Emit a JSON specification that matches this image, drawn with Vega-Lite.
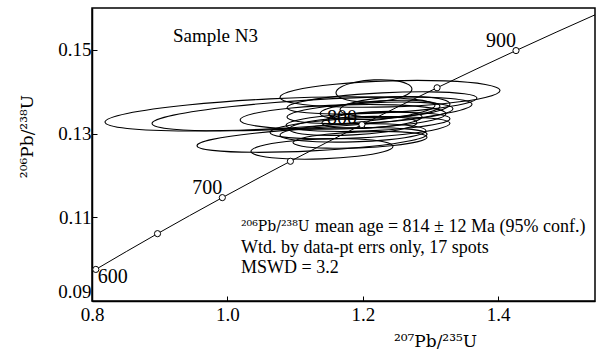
{
  "$schema": "https://vega.github.io/schema/vega-lite/v6.json",
  "width": 503,
  "height": 293,
  "autosize": "none",
  "padding": {"left": 92, "top": 8, "right": 3, "bottom": 52},
  "background": "white",
  "config": {
    "view": {"stroke": "black", "strokeWidth": 1.5},
    "font": "Liberation Serif",
    "text": {"font": "Liberation Serif", "color": "black"},
    "axis": {
      "labelFont": "Liberation Serif",
      "titleFont": "DejaVu Serif",
      "labelColor": "black",
      "titleColor": "black",
      "domainColor": "black",
      "domainWidth": 1.5,
      "tickColor": "black",
      "grid": false,
      "titleFontWeight": "normal"
    }
  },
  "datasets": {
    "conc": [
      {"t": 600, "x": 0.80563, "y": 0.097545},
      {"t": 625, "x": 0.85064, "y": 0.101809},
      {"t": 650, "x": 0.89677, "y": 0.10609},
      {"t": 675, "x": 0.94406, "y": 0.11039},
      {"t": 700, "x": 0.99251, "y": 0.11470},
      {"t": 725, "x": 1.04218, "y": 0.11903},
      {"t": 750, "x": 1.09309, "y": 0.12338},
      {"t": 775, "x": 1.14526, "y": 0.12775},
      {"t": 800, "x": 1.19873, "y": 0.13213},
      {"t": 825, "x": 1.25354, "y": 0.13653},
      {"t": 850, "x": 1.30972, "y": 0.14094},
      {"t": 875, "x": 1.36729, "y": 0.14538},
      {"t": 900, "x": 1.42631, "y": 0.14983},
      {"t": 925, "x": 1.48677, "y": 0.15430},
      {"t": 950, "x": 1.54876, "y": 0.15878}
    ]
  },
  "layer": [
    {
      "data": {"values": [
        {"s": 1, "k": [0,1,2,3,4,5,6,7,8,9,10,11], "x": [1.3066,1.2739,1.1848,1.0629,0.9410,0.8519,0.8192,0.8519,0.9410,1.0629,1.1848,1.2739], "y": [0.13668,0.13822,0.13881,0.13830,0.13683,0.13480,0.13274,0.13120,0.13061,0.13112,0.13259,0.13462]},
        {"s": 2, "k": [0,1,2,3,4,5,6,7,8,9,10,11], "x": [1.3613,1.3296,1.2432,1.1250,1.0068,0.9204,0.8887,0.9204,1.0068,1.1250,1.2432,1.3296], "y": [0.13701,0.13838,0.13876,0.13806,0.13646,0.13440,0.13241,0.13104,0.13066,0.13136,0.13296,0.13502]},
        {"s": 3, "k": [0,1,2,3,4,5,6,7,8,9,10,11], "x": [1.2949,1.2721,1.2100,1.1250,1.0400,0.9779,0.9551,0.9779,1.0400,1.1250,1.2100,1.2721], "y": [0.12986,0.13100,0.13146,0.13112,0.13008,0.12862,0.12712,0.12598,0.12552,0.12586,0.12690,0.12836]},
        {"s": 4, "k": [0,1,2,3,4,5,6,7,8,9,10,11], "x": [1.2446,1.2305,1.1922,1.1397,1.0872,1.0489,1.0348,1.0489,1.0872,1.1397,1.1922,1.2305], "y": [0.12693,0.12805,0.12871,0.12873,0.12811,0.12703,0.12575,0.12463,0.12397,0.12395,0.12457,0.12565]},
        {"s": 5, "k": [0,1,2,3,4,5,6,7,8,9,10,11], "x": [1.3229,1.3025,1.2469,1.1708,1.0947,1.0391,1.0187,1.0391,1.0947,1.1708,1.2469,1.3025], "y": [0.13473,0.13607,0.13685,0.13686,0.13611,0.13479,0.13325,0.13191,0.13113,0.13112,0.13187,0.13319]},
        {"s": 6, "k": [0,1,2,3,4,5,6,7,8,9,10,11], "x": [1.4027,1.3809,1.3215,1.2402,1.1589,1.0995,1.0777,1.0995,1.1589,1.2402,1.3215,1.3809], "y": [0.14028,0.14173,0.14258,0.14260,0.14178,0.14037,0.13870,0.13725,0.13640,0.13638,0.13720,0.13861]},
        {"s": 7, "k": [0,1,2,3,4,5,6,7,8,9,10,11], "x": [1.2726,1.2651,1.2446,1.2165,1.1885,1.1679,1.1604,1.1679,1.1885,1.2165,1.2446,1.2651], "y": [0.14065,0.14191,0.14271,0.14283,0.14225,0.14113,0.13975,0.13849,0.13769,0.13757,0.13815,0.13927]},
        {"s": 8, "k": [0,1,2,3,4,5,6,7,8,9,10,11], "x": [1.2933,1.2789,1.2394,1.1855,1.1316,1.0921,1.0777,1.0921,1.1316,1.1855,1.2394,1.2789], "y": [0.13068,0.13169,0.13228,0.13231,0.13176,0.13079,0.12964,0.12863,0.12804,0.12801,0.12856,0.12953]},
        {"s": 9, "k": [0,1,2,3,4,5,6,7,8,9,10,11], "x": [1.2800,1.2673,1.2328,1.1855,1.1383,1.1037,1.0910,1.1037,1.1383,1.1855,1.2328,1.2673], "y": [0.13261,0.13359,0.13408,0.13399,0.13332,0.13225,0.13107,0.13009,0.12960,0.12969,0.13036,0.13143]},
        {"s": 10, "k": [0,1,2,3,4,5,6,7,8,9,10,11], "x": [1.3687,1.3499,1.2986,1.2284,1.1582,1.1069,1.0881,1.1069,1.1582,1.2284,1.2986,1.3499], "y": [0.13847,0.13952,0.13997,0.13972,0.13883,0.13754,0.13619,0.13514,0.13469,0.13494,0.13583,0.13712]},
        {"s": 11, "k": [0,1,2,3,4,5,6,7,8,9,10,11], "x": [1.3332,1.3168,1.2719,1.2106,1.1493,1.1044,1.0880,1.1044,1.1493,1.2106,1.2719,1.3168], "y": [0.13593,0.13700,0.13751,0.13733,0.13651,0.13528,0.13395,0.13288,0.13237,0.13255,0.13337,0.13460]},
        {"s": 12, "k": [0,1,2,3,4,5,6,7,8,9,10,11], "x": [1.3288,1.3126,1.2683,1.2077,1.1471,1.1028,1.0866,1.1028,1.1471,1.2077,1.2683,1.3126], "y": [0.13357,0.13455,0.13504,0.13494,0.13426,0.13319,0.13201,0.13103,0.13054,0.13064,0.13132,0.13239]},
        {"s": 13, "k": [0,1,2,3,4,5,6,7,8,9,10,11], "x": [1.2949,1.2816,1.2454,1.1959,1.1464,1.1102,1.0969,1.1102,1.1464,1.1959,1.2454,1.2816], "y": [0.12913,0.13000,0.13046,0.13040,0.12982,0.12890,0.12785,0.12698,0.12652,0.12658,0.12716,0.12808]},
        {"s": 14, "k": [0,1,2,3,4,5,6,7,8,9,10,11], "x": [1.3140,1.3021,1.2697,1.2254,1.1811,1.1487,1.1368,1.1487,1.1811,1.2254,1.2697,1.3021], "y": [0.13652,0.13748,0.13795,0.13781,0.13709,0.13600,0.13480,0.13384,0.13337,0.13351,0.13423,0.13532]},
        {"s": 15, "k": [0,1,2,3,4,5,6,7,8,9,10,11], "x": [1.2875,1.2776,1.2506,1.2136,1.1766,1.1496,1.1397,1.1496,1.1766,1.2136,1.2506,1.2776], "y": [0.13399,0.13485,0.13528,0.13518,0.13456,0.13361,0.13255,0.13169,0.13126,0.13136,0.13198,0.13293]},
        {"s": 16, "k": [0,1,2,3,4,5,6,7,8,9,10,11], "x": [1.3288,1.3179,1.2882,1.2476,1.2070,1.1773,1.1664,1.1773,1.2070,1.2476,1.2882,1.3179], "y": [0.13704,0.13815,0.13878,0.13877,0.13812,0.13701,0.13572,0.13461,0.13398,0.13399,0.13464,0.13575]},
        {"s": 17, "k": [0,1,2,3,4,5,6,7,8,9,10,11], "x": [1.3288,1.3110,1.2624,1.1959,1.1295,1.0808,1.0630,1.0808,1.1295,1.1959,1.2624,1.3110], "y": [0.13244,0.13350,0.13397,0.13375,0.13289,0.13162,0.13028,0.12922,0.12875,0.12897,0.12983,0.13110]}
      ]},
      "transform": [{"flatten": ["k", "x", "y"]}],
      "mark": {"type": "line", "interpolate": "cardinal-closed", "color": "black", "strokeWidth": 1.1},
      "encoding": {
        "x": {
          "field": "x", "type": "quantitative",
          "scale": {"domain": [0.8, 1.543], "nice": false, "zero": false},
          "axis": {
            "values": [0.8, 1.0, 1.2, 1.4], "format": ".1f", "labelFlush": false,
            "labelFontSize": 19, "tickSize": -5, "labelPadding": 9,
            "title": "²⁰⁷Pb/²³⁵U", "titleFontSize": 17,
            "titleX": 343, "titleY": 40, "titleBaseline": "middle", "titleAlign": "center"
          }
        },
        "y": {
          "field": "y", "type": "quantitative",
          "scale": {"domain": [0.09, 0.16], "nice": false, "zero": false},
          "axis": {
            "values": [0.09, 0.11, 0.13, 0.15], "format": ".2f", "labelFlush": true,
            "labelFontSize": 19, "tickSize": -5, "labelPadding": 6,
            "title": "²⁰⁶Pb/²³⁸U", "titleFontSize": 17,
            "titleX": -65, "titleY": 128, "titleBaseline": "middle", "titleAlign": "center"
          }
        },
        "detail": {"field": "s"},
        "order": {"field": "k"}
      }
    },
    {
      "data": {"name": "conc"},
      "mark": {"type": "line", "color": "black", "strokeWidth": 1, "clip": true},
      "encoding": {
        "x": {"field": "x", "type": "quantitative"},
        "y": {"field": "y", "type": "quantitative"},
        "order": {"field": "t"}
      }
    },
    {
      "data": {"name": "conc"},
      "transform": [{"filter": "datum.t % 50 == 0 && datum.t <= 900"}],
      "mark": {"type": "point", "shape": "circle", "fill": "white", "stroke": "black", "strokeWidth": 1, "size": 38, "opacity": 1},
      "encoding": {
        "x": {"field": "x", "type": "quantitative"},
        "y": {"field": "y", "type": "quantitative"}
      }
    },
    {
      "data": {"name": "conc"},
      "transform": [{"filter": "datum.t == 700 || datum.t == 900"}],
      "mark": {"type": "text", "align": "right", "baseline": "middle", "dx": 0, "dy": -10, "fontSize": 20},
      "encoding": {
        "x": {"field": "x", "type": "quantitative"},
        "y": {"field": "y", "type": "quantitative"},
        "text": {"field": "t"}
      }
    },
    {
      "data": {"name": "conc"},
      "transform": [{"filter": "datum.t == 800"}],
      "mark": {"type": "text", "align": "right", "baseline": "middle", "dx": -5, "dy": -7, "fontSize": 20},
      "encoding": {
        "x": {"field": "x", "type": "quantitative"},
        "y": {"field": "y", "type": "quantitative"},
        "text": {"field": "t"}
      }
    },
    {
      "data": {"name": "conc"},
      "transform": [{"filter": "datum.t == 600"}],
      "mark": {"type": "text", "align": "left", "baseline": "middle", "dx": 2, "dy": 8, "fontSize": 20},
      "encoding": {
        "x": {"field": "x", "type": "quantitative"},
        "y": {"field": "y", "type": "quantitative"},
        "text": {"field": "t"}
      }
    },
    {
      "data": {"values": [
        {"x": 1.0201, "y": 0.10769, "txt": "²⁰⁶Pb/²³⁸U"}
      ]},
      "mark": {"type": "text", "align": "left", "baseline": "middle", "fontSize": 14, "font": "DejaVu Serif"},
      "encoding": {
        "x": {"field": "x", "type": "quantitative"},
        "y": {"field": "y", "type": "quantitative"},
        "text": {"field": "txt"}
      }
    },
    {
      "data": {"values": [
        {"x": 1.0201, "y": 0.10769, "txt": "mean age = 814 ± 12 Ma (95% conf.)"}
      ]},
      "mark": {"type": "text", "align": "left", "baseline": "middle", "fontSize": 18, "dx": 74},
      "encoding": {
        "x": {"field": "x", "type": "quantitative"},
        "y": {"field": "y", "type": "quantitative"},
        "text": {"field": "txt"}
      }
    },
    {
      "data": {"values": [
        {"x": 1.0201, "y": 0.10267, "txt": "Wtd. by data-pt errs only, 17 spots"},
        {"x": 1.0201, "y": 0.09789, "txt": "MSWD = 3.2"}
      ]},
      "mark": {"type": "text", "align": "left", "baseline": "middle", "fontSize": 18},
      "encoding": {
        "x": {"field": "x", "type": "quantitative"},
        "y": {"field": "y", "type": "quantitative"},
        "text": {"field": "txt"}
      }
    },
    {
      "data": {"values": [{"x": 0.9196, "y": 0.15335, "txt": "Sample N3"}]},
      "mark": {"type": "text", "align": "left", "baseline": "middle", "fontSize": 19},
      "encoding": {
        "x": {"field": "x", "type": "quantitative"},
        "y": {"field": "y", "type": "quantitative"},
        "text": {"field": "txt"}
      }
    }
  ]
}
